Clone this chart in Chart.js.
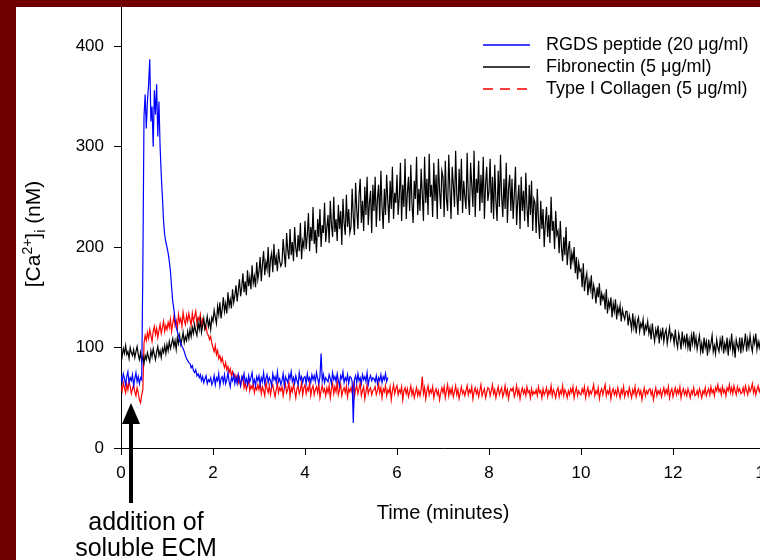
<!DOCTYPE html>
<html><head><meta charset="utf-8">
<script src="https://cdn.jsdelivr.net/npm/chart.js@4.4.1/dist/chart.umd.min.js"></script>
<style>
html,body{margin:0;padding:0;width:760px;height:560px;overflow:hidden;background:#700000;}
#wrap{position:absolute;left:16px;top:7px;width:790px;height:553px;background:#fff;}
canvas{display:block;}
</style></head><body>
<div id="wrap"><canvas id="c" width="790" height="553"></canvas></div>
<script>
// sampling interval of the traces (minutes)
const TIME_STEP = 0.025;
const SERIES_LABELS = ['RGDS peptide (20 \u03bcg/ml)', 'Fibronectin (5 \u03bcg/ml)', 'Type I Collagen (5 \u03bcg/ml)'];
const SERIES_COLORS = ['#0000ff', '#000000', '#ff0000'];
const X_TICKS = [0, 2, 4, 6, 8, 10, 12, 14];
const Y_TICKS = [0, 100, 200, 300, 400];
const ARROW_T = 0.22;

// [Ca2+]i (nM), RGDS peptide, t = 0 .. 5.80 min (one row = 0.5 min)
const RGDS = [
  72, 66, 74, 69, 63, 71, 76, 65, 70, 67, 73, 62, 69, 75, 66, 71, 64, 70, 68, 180,
  330, 352, 318, 346, 362, 387, 325, 340, 300, 356, 332, 362, 310, 345, 300, 272, 250, 226, 212, 205,
  200, 194, 186, 176, 160, 146, 138, 128, 120, 116, 112, 108, 104, 101, 99, 96, 92, 89, 87, 85,
  84, 80, 82, 77, 75, 78, 72, 74, 70, 73, 67, 71, 65, 69, 72, 64, 68, 66, 70, 63,
  66, 72, 63, 70, 67, 74, 62, 69, 71, 65, 73, 64, 68, 75, 66, 61, 70, 67, 73, 64,
  70, 64, 73, 67, 62, 71, 68, 74, 65, 69, 63, 72, 66, 70, 75, 64, 68, 62, 71, 67,
  72, 63, 70, 66, 75, 64, 69, 73, 65, 70, 67, 62, 74, 68, 71, 65, 76, 66, 69, 63,
  67, 74, 62, 71, 68, 65, 73, 69, 76, 66, 70, 64, 72, 67, 63, 75, 68, 71, 65, 70,
  71, 64, 74, 67, 70, 65, 73, 68, 72, 66, 75, 69, 64, 71, 94, 67, 73, 65, 70, 68,
  66, 73, 69, 64, 75, 68, 71, 66, 74, 67, 62, 72, 69, 76, 65, 70, 67, 73, 64, 71,
  70, 66, 25, 68, 72, 65, 74, 67, 70, 64, 73, 68, 71, 66, 75, 63, 69, 72, 67, 70,
  69, 66, 72, 64, 70, 67, 73, 65, 71, 68, 74, 66, 70
];

// Fibronectin, t = 0 .. 13.90 min (one row = 0.5 min)
const FIBRONECTIN = [
  97, 91, 99, 94, 102, 93, 96, 89, 100, 95, 92, 98, 90, 96, 101, 93, 88, 95, 86, 91,
  84, 92, 88, 95, 90, 86, 97, 91, 99, 93, 88, 96, 101, 92, 97, 90, 99, 95, 102, 94,
  103, 97, 106, 99, 104, 109, 101, 107, 98, 110, 104, 112, 103, 108, 115, 105, 111, 107, 116, 109,
  118, 111, 120, 114, 123, 116, 112, 125, 118, 127, 115, 122, 129, 119, 124, 131, 121, 127, 118, 130,
  126, 137, 130, 124, 141, 133, 145, 129, 138, 150, 136, 144, 134, 155, 141, 148, 139, 158, 145, 152,
  162, 146, 157, 168, 151, 160, 174, 155, 166, 152, 177, 161, 170, 158, 182, 164, 171, 160, 185, 168,
  176, 190, 166, 183, 196, 172, 185, 178, 200, 170, 188, 194, 175, 203, 182, 190, 176, 198, 186, 181,
  184, 208, 193, 180, 214, 197, 188, 218, 192, 205, 186, 220, 199, 190, 212, 196, 224, 188, 206, 200,
  226, 198, 212, 234, 196, 220, 206, 240, 203, 217, 194, 228, 210, 238, 200, 222, 214, 244, 205, 219,
  232, 204, 246, 222, 210, 250, 215, 228, 206, 242, 218, 236, 202, 248, 224, 212, 252, 220, 238, 214,
  220, 258, 230, 212, 264, 238, 218, 252, 268, 224, 246, 216, 260, 232, 270, 222, 244, 256, 214, 262,
  236, 270, 220, 248, 262, 226, 276, 240, 218, 258, 232, 272, 246, 224, 266, 238, 280, 228, 254, 244,
  272, 232, 250, 284, 226, 262, 240, 288, 228, 254, 270, 236, 282, 244, 224, 266, 248, 290, 232, 258,
  236, 278, 252, 226, 290, 244, 268, 232, 293, 250, 262, 230, 284, 246, 272, 228, 288, 256, 238, 276,
  270, 230, 286, 248, 236, 292, 258, 228, 280, 262, 240, 296, 252, 232, 278, 246, 288, 234, 266, 250,
  238, 294, 250, 232, 284, 262, 240, 296, 230, 268, 254, 286, 236, 272, 244, 290, 228, 262, 280, 246,
  256, 288, 234, 270, 228, 282, 246, 226, 276, 240, 292, 250, 230, 268, 238, 284, 224, 258, 272, 236,
  268, 228, 252, 280, 222, 246, 262, 218, 270, 236, 256, 226, 274, 240, 220, 262, 232, 266, 216, 248,
  244, 214, 258, 226, 208, 246, 218, 238, 200, 224, 240, 210, 232, 204, 250, 216, 226, 198, 236, 212,
  216, 194, 226, 200, 186, 210, 192, 220, 182, 198, 206, 178, 194, 186, 200, 174, 190, 168, 184, 176,
  178, 160, 184, 156, 168, 174, 152, 166, 158, 172, 148, 162, 156, 144, 160, 150, 164, 142, 154, 148,
  152, 138, 158, 134, 146, 140, 150, 130, 144, 136, 148, 128, 140, 134, 142, 126, 138, 132, 128, 136,
  136, 122, 132, 126, 118, 134, 120, 128, 114, 126, 130, 116, 124, 120, 128, 112, 122, 118, 126, 114,
  120, 108, 124, 114, 106, 118, 112, 122, 104, 116, 110, 120, 106, 114, 118, 104, 112, 120, 108, 114,
  112, 104, 118, 106, 100, 114, 108, 98, 116, 104, 110, 102, 114, 100, 108, 96, 112, 104, 116, 102,
  110, 98, 106, 112, 96, 104, 94, 110, 100, 106, 92, 108, 98, 104, 112, 96, 102, 94, 108, 100,
  96, 108, 100, 112, 94, 104, 98, 110, 92, 106, 100, 114, 96, 104, 90, 108, 102, 98, 110, 94,
  110, 98, 104, 114, 96, 108, 100, 112, 102, 96, 110, 104, 114, 98, 106, 100, 108
];

// Type I Collagen, t = 0 .. 13.90 min (one row = 0.5 min)
const COLLAGEN = [
  62, 57, 65, 60, 55, 64, 58, 66, 61, 54, 59, 63, 56, 52, 60, 55, 48, 45, 53, 58,
  104, 112, 107, 115, 109, 118, 112, 106, 116, 121, 113, 119, 110, 117, 123, 114, 120, 126, 116, 122,
  118, 125, 120, 128, 116, 124, 131, 122, 127, 119, 133, 125, 129, 121, 135, 127, 123, 132, 126, 134,
  128, 122, 134, 126, 131, 136, 124, 130, 127, 133, 122, 128, 124, 118, 121, 114, 112, 108, 111, 104,
  100, 96, 102, 93, 97, 89, 92, 86, 90, 84, 80, 85, 78, 81, 75, 79, 72, 76, 70, 73,
  68, 72, 65, 70, 62, 67, 71, 60, 65, 58, 63, 67, 57, 62, 59, 64, 55, 61, 58, 63,
  58, 64, 54, 61, 57, 52, 66, 59, 55, 62, 53, 60, 63, 56, 51, 58, 64, 55, 60, 57,
  61, 52, 59, 64, 55, 58, 66, 51, 60, 56, 63, 57, 50, 59, 62, 54, 58, 65, 53, 60,
  63, 54, 60, 57, 65, 52, 59, 62, 53, 58, 61, 55, 64, 50, 57, 62, 56, 59, 52, 60,
  55, 62, 50, 59, 64, 54, 61, 56, 66, 53, 58, 63, 52, 57, 60, 55, 62, 51, 59, 56,
  60, 55, 63, 51, 58, 62, 54, 59, 65, 52, 57, 61, 49, 56, 63, 54, 58, 60, 53, 57,
  58, 61, 53, 57, 64, 55, 60, 50, 59, 56, 62, 52, 58, 55, 61, 48, 57, 63, 54, 59,
  62, 53, 58, 55, 61, 48, 57, 60, 54, 59, 51, 56, 62, 53, 58, 50, 55, 60, 52, 57,
  52, 58, 71, 54, 60, 49, 57, 62, 53, 58, 55, 61, 50, 56, 59, 53, 57, 48, 55, 60,
  55, 61, 50, 57, 63, 52, 59, 54, 60, 51, 56, 62, 53, 58, 49, 55, 61, 54, 57, 52,
  57, 62, 53, 58, 55, 61, 49, 56, 60, 54, 58, 51, 57, 63, 52, 56, 59, 50, 55, 60,
  59, 52, 57, 63, 54, 58, 50, 56, 61, 53, 57, 60, 51, 55, 62, 53, 58, 49, 56, 59,
  57, 60, 51, 55, 62, 53, 58, 49, 56, 60, 54, 58, 52, 61, 55, 57, 50, 59, 53, 56,
  54, 58, 52, 61, 55, 57, 50, 59, 53, 56, 60, 51, 57, 54, 62, 52, 58, 55, 50, 57,
  60, 51, 57, 54, 62, 52, 58, 55, 50, 57, 53, 59, 55, 61, 50, 56, 60, 52, 57, 54,
  53, 59, 55, 61, 50, 56, 60, 52, 57, 54, 58, 63, 52, 57, 54, 60, 49, 56, 59, 53,
  58, 63, 52, 57, 54, 60, 49, 56, 59, 53, 57, 52, 60, 55, 50, 58, 54, 61, 51, 56,
  57, 52, 60, 55, 50, 58, 54, 61, 51, 56, 59, 53, 57, 48, 55, 60, 52, 57, 54, 58,
  59, 53, 57, 48, 55, 60, 52, 57, 54, 58, 51, 56, 60, 53, 58, 54, 61, 50, 56, 59,
  51, 56, 60, 53, 58, 54, 61, 50, 56, 59, 53, 57, 52, 59, 55, 50, 57, 54, 60, 52,
  53, 57, 52, 59, 55, 50, 57, 54, 60, 52, 56, 59, 53, 61, 55, 58, 52, 60, 57, 63,
  56, 59, 53, 61, 55, 58, 52, 60, 57, 63, 55, 60, 54, 62, 57, 53, 61, 56, 59, 54,
  55, 60, 54, 62, 57, 53, 61, 56, 59, 64, 55, 60, 53, 58, 62, 56, 60
];

const FONT = "'Liberation Sans', Arial, sans-serif";
const toPoints = arr => arr.map((v, i) => ({ x: Math.round(i * TIME_STEP * 1000) / 1000, y: v }));

const overlay = {
  id: 'overlay',
  afterDraw(chart) {
    const ctx = chart.ctx, xs = chart.scales.x;
    ctx.save();
    ctx.fillStyle = '#000';
    // legend
    ctx.font = '18px ' + FONT;
    ctx.textBaseline = 'middle';
    ctx.textAlign = 'left';
    SERIES_LABELS.forEach((label, i) => {
      const y = 38 + i * 22;
      ctx.strokeStyle = SERIES_COLORS[i];
      ctx.lineWidth = 1.3;
      ctx.setLineDash(i === 2 ? [10, 7] : []);
      ctx.beginPath(); ctx.moveTo(467, y); ctx.lineTo(514, y); ctx.stroke();
      ctx.setLineDash([]);
      ctx.fillStyle = '#000';
      ctx.fillText(label, 530, y);
    });
    // y title
    ctx.save();
    ctx.translate(17, 227);
    ctx.rotate(-Math.PI / 2);
    const big = '21px ' + FONT, small = '14px ' + FONT;
    const parts = [['[Ca', big, 0], ['2+', small, -8], [']', big, 0], ['i', small, 5], [' (nM)', big, 0]];
    let total = 0;
    parts.forEach(p => { ctx.font = p[1]; total += ctx.measureText(p[0]).width; });
    let x0 = -total / 2;
    ctx.textBaseline = 'alphabetic';
    parts.forEach(p => { ctx.font = p[1]; ctx.fillText(p[0], x0, 7 + p[2]); x0 += ctx.measureText(p[0]).width; });
    ctx.restore();
    // x title
    ctx.font = '20px ' + FONT;
    ctx.textAlign = 'center';
    ctx.textBaseline = 'alphabetic';
    ctx.fillText('Time (minutes)', 427, 512);
    // arrow
    const ax = Math.round(xs.getPixelForValue(ARROW_T));
    ctx.fillRect(ax - 2, 414, 4, 82);
    ctx.beginPath(); ctx.moveTo(ax, 396); ctx.lineTo(ax - 9, 417); ctx.lineTo(ax + 9, 417); ctx.closePath(); ctx.fill();
    // annotation
    ctx.font = '25px ' + FONT;
    ctx.fillText('addition of', 130, 523);
    ctx.fillText('soluble ECM', 130, 549);
    ctx.restore();
  }
};

new Chart(document.getElementById('c'), {
  type: 'line',
  data: {
    datasets: [
      { label: SERIES_LABELS[0], data: toPoints(RGDS), borderColor: SERIES_COLORS[0] },
      { label: SERIES_LABELS[1], data: toPoints(FIBRONECTIN), borderColor: SERIES_COLORS[1] },
      { label: SERIES_LABELS[2], data: toPoints(COLLAGEN), borderColor: SERIES_COLORS[2] }
    ]
  },
  options: {
    responsive: false, animation: false, devicePixelRatio: 1,
    layout: { padding: { left: 0, right: 41, top: 0, bottom: 0 } },
    plugins: { legend: { display: false }, tooltip: { enabled: false } },
    elements: { point: { radius: 0 }, line: { borderWidth: 1.2, tension: 0, fill: false } },
    scales: {
      x: {
        type: 'linear', min: 0, max: 14,
        afterBuildTicks: s => { s.ticks = X_TICKS.map(v => ({ value: v })); },
        afterFit: s => { s.height = 112; s.paddingLeft = 0; s.paddingRight = 0; },
        grid: { drawOnChartArea: false, drawTicks: true, tickLength: 7, color: '#000', lineWidth: 1 },
        border: { color: '#000', width: 1 },
        ticks: { color: '#000', font: { family: FONT, size: 17 }, padding: 8, maxRotation: 0, autoSkip: false }
      },
      y: {
        min: 0, max: 439,
        afterBuildTicks: s => { s.ticks = Y_TICKS.map(v => ({ value: v })); },
        afterFit: s => { s.width = 105; s.paddingTop = 0; s.paddingBottom = 0; },
        grid: { drawOnChartArea: false, drawTicks: true, tickLength: 7, color: '#000', lineWidth: 1 },
        border: { color: '#000', width: 1 },
        ticks: { color: '#000', font: { family: FONT, size: 17 }, padding: 10 }
      }
    }
  },
  plugins: [overlay]
});
</script>
</body></html>
